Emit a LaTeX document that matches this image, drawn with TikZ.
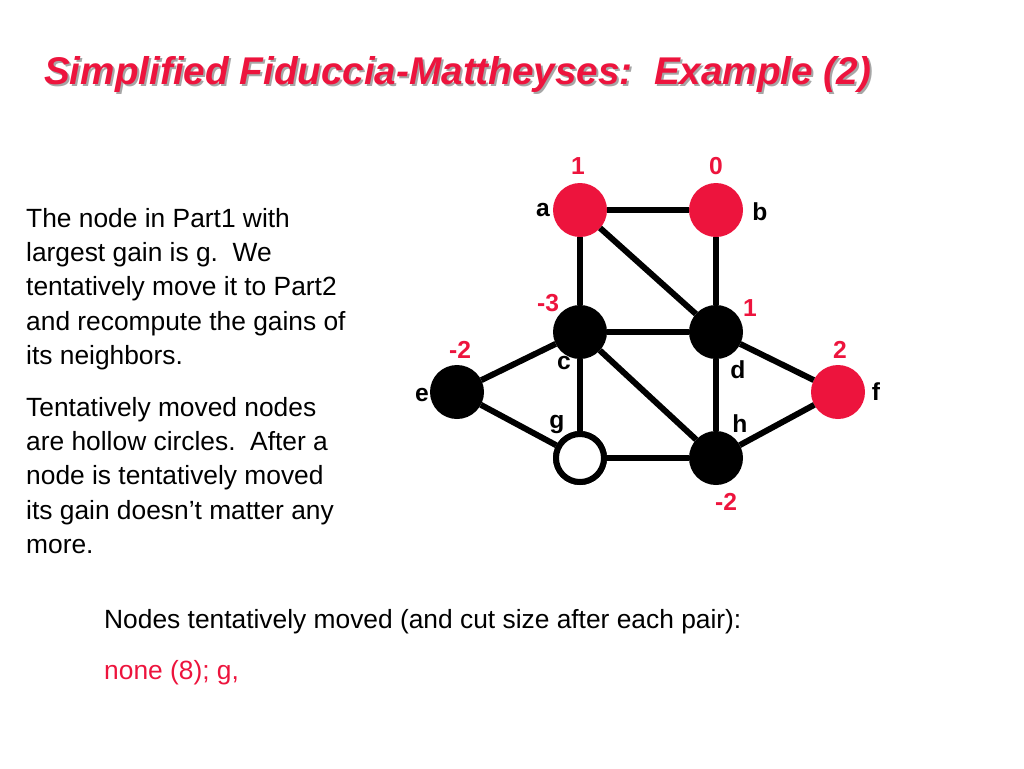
\documentclass[tikz,border=0pt]{standalone}
\usepackage{fontspec}
\setmainfont{Liberation Sans}
\definecolor{fmred}{RGB}{237,20,61}
\begin{document}
\begin{tikzpicture}[x=0.02cm,y=-0.02cm]
    % `vert' is the graph node, `gain' its red number, `lbl' its letter.
    \tikzstyle{vert} = [draw,circle,minimum size=0.96cm,inner sep=0pt,line width=3.4pt]
    \tikzstyle{part1} = [vert,fill=fmred,draw=fmred]
    \tikzstyle{part2} = [vert,fill=black]
    \tikzstyle{moved} = [vert,fill=white]
    \tikzstyle{gain} = [text=fmred,font=\fontsize{14}{16}\selectfont\bfseries]
    \tikzstyle{lbl} = [font=\fontsize{14}{16}\selectfont\bfseries]
    \tikzstyle{edge} = [line width=3.4pt]
    \tikzstyle{body} = [anchor=north west,align=left,font=\fontsize{15}{19.5}\selectfont]
    %
    \useasboundingbox (0,0) rectangle (1024,768);
    % Title with shadow.
    \node[anchor=west,text=gray!70,font=\fontsize{22}{26}\selectfont\bfseries\itshape] at (40,77) {Simplified Fiduccia-Mattheyses:\ \ Example (2)};
    \node[anchor=west,text=fmred,font=\fontsize{22}{26}\selectfont\bfseries\itshape] (title) at (38,75) {Simplified Fiduccia-Mattheyses:\ \ Example (2)};
    %
    \node[body] (txt1) at (20,202) {The node in Part1 with\\largest gain is g.\ \ We\\tentatively move it to Part2\\and recompute the gains of\\its neighbors.};
    \node[body] (txt2) at (20,391) {Tentatively moved nodes\\are hollow circles.\ \ After a\\node is tentatively moved\\its gain doesn’t matter any\\more.};
    \node[anchor=west,font=\fontsize{15}{18}\selectfont] (moves) at (98,622) {Nodes tentatively moved (and cut size after each pair):};
    \node[anchor=west,text=fmred,font=\fontsize{15}{18}\selectfont] (list) at (98,673) {none (8); g,};
    %
    \node[part1] (a) at (580,210) {};
    \node[part1] (b) at (716,210) {};
    \node[part2] (c) at (580,332) {};
    \node[part2] (d) at (716,332) {};
    \node[part2] (e) at (457,392) {};
    \node[part1] (f) at (838,392) {};
    \node[moved] (g) at (580,458) {};
    \node[part2] (h) at (716,458) {};
    \begin{scope}[on background layer/.style={}]
      \foreach \u/\v in {a/b,a/c,a/d,b/d,c/d,c/e,c/g,c/h,d/h,d/f,e/g,g/h,h/f}
        \draw[edge] (\u) -- (\v);
    \end{scope}
    % Redraw the hollow node over its edges.
    \node[moved] at (g) {};
    %
    \node[lbl] (la) at (543,210) {a};
    \node[lbl] (lb) at (760,212) {b};
    \node[lbl] (lc) at (564,363) {c};
    \node[lbl] (ld) at (738,370) {d};
    \node[lbl] (le) at (422,395) {e};
    \node[lbl] (lf) at (876,392) {f};
    \node[lbl] (lg) at (557,424) {g};
    \node[lbl] (lh) at (740,424) {h};
    \node[gain] (ga) at (578,166) {1};
    \node[gain] (gb) at (716,166) {0};
    \node[gain] (gc) at (548,303) {-3};
    \node[gain] (gd) at (750,308) {1};
    \node[gain] (ge) at (460,350) {-2};
    \node[gain] (gf) at (840,350) {2};
    \node[gain] (gh) at (726,502) {-2};
\end{tikzpicture}
\end{document}
